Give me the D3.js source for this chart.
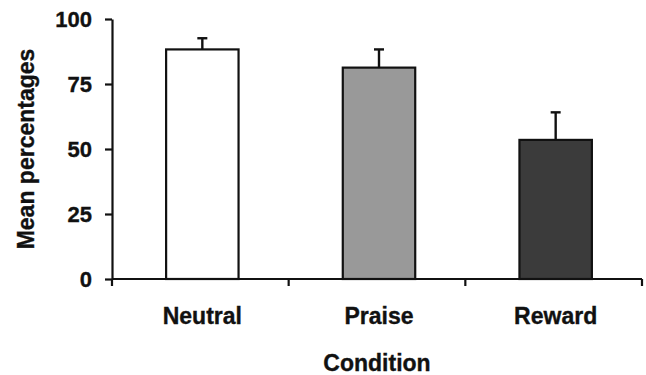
<!DOCTYPE html>
<html>
<head>
<meta charset="utf-8">
<script src="https://cdn.jsdelivr.net/npm/d3@7"></script>
<style>
  html, body { margin: 0; padding: 0; background: #fff; }
  svg { display: block; }
  text { font-family: "Liberation Sans", Arial, sans-serif; font-weight: bold; fill: #111; stroke: #111; stroke-width: 0.35px; }
</style>
</head>
<body>
<svg id="chart" width="646" height="375"></svg>
<script>
const categories = ["Neutral", "Praise", "Reward"];
const means = [88.3, 81.3, 53.5];
const errors = [4.3, 7.0, 10.6];
const fills = ["#ffffff", "#999999", "#3b3b3b"];
const yTicks = [0, 25, 50, 75, 100];

const svg = d3.select("#chart");
const mLeft = 112, mRight = 642, mTop = 19, mBottom = 279;

const x = d3.scaleBand().domain(categories).range([mLeft, mRight]).padding(0);
const y = d3.scaleLinear().domain([0, 100]).range([mBottom, mTop]);
const barW = x.bandwidth() * 0.41;
const ink = "#111";

// bars
svg.append("g").selectAll("rect").data(categories).join("rect")
  .attr("x", (d) => x(d) + x.bandwidth() / 2 - barW / 2 + 2)
  .attr("y", (d, i) => y(means[i]))
  .attr("width", barW)
  .attr("height", (d, i) => y(0) - y(means[i]))
  .attr("fill", (d, i) => fills[i])
  .attr("stroke", ink)
  .attr("stroke-width", 2.2);

// error bars (upper only)
const eg = svg.append("g").attr("stroke", ink).attr("stroke-width", 2.4);
categories.forEach((c, i) => {
  const cx = x(c) + x.bandwidth() / 2 + 2;
  eg.append("line").attr("x1", cx).attr("x2", cx)
    .attr("y1", y(means[i])).attr("y2", y(means[i] + errors[i]));
  eg.append("line").attr("x1", cx - 5).attr("x2", cx + 5)
    .attr("y1", y(means[i] + errors[i])).attr("y2", y(means[i] + errors[i]));
});

// y axis
const yAxis = svg.append("g").attr("transform", `translate(${mLeft},0)`)
  .call(d3.axisLeft(y).tickValues(yTicks).tickSize(7).tickSizeOuter(0).tickPadding(13));
yAxis.select(".domain").attr("stroke", ink).attr("stroke-width", 2.2);
yAxis.selectAll(".tick line").attr("stroke", ink).attr("stroke-width", 2.2);
yAxis.selectAll(".tick text").attr("font-size", 22).attr("font-family", "Liberation Sans, Arial, sans-serif")
  .attr("font-weight", "bold").attr("fill", ink).attr("dy", "0.36em");

// x axis
const xg = svg.append("g");
xg.append("line").attr("x1", mLeft).attr("x2", mRight).attr("y1", mBottom).attr("y2", mBottom)
  .attr("stroke", ink).attr("stroke-width", 2.2);
const bounds = categories.map((c) => x(c)).concat([x(categories[categories.length - 1]) + x.bandwidth()]);
xg.selectAll("line.tk").data(bounds).join("line").attr("class", "tk")
  .attr("x1", (d) => d).attr("x2", (d) => d).attr("y1", mBottom).attr("y2", mBottom + 7)
  .attr("stroke", ink).attr("stroke-width", 2.2);
xg.selectAll("text").data(categories).join("text")
  .attr("x", (d) => x(d) + x.bandwidth() / 2 + 2)
  .attr("y", 324)
  .attr("text-anchor", "middle")
  .attr("font-size", 23)
  .text((d) => d);

// axis titles
svg.append("text").attr("x", (mLeft + mRight) / 2).attr("y", 371)
  .attr("text-anchor", "middle").attr("font-size", 23).text("Condition");
svg.append("text").attr("transform", `translate(34,${(mTop + mBottom) / 2}) rotate(-90)`)
  .attr("text-anchor", "middle").attr("font-size", 23).text("Mean percentages");
</script>
</body>
</html>
